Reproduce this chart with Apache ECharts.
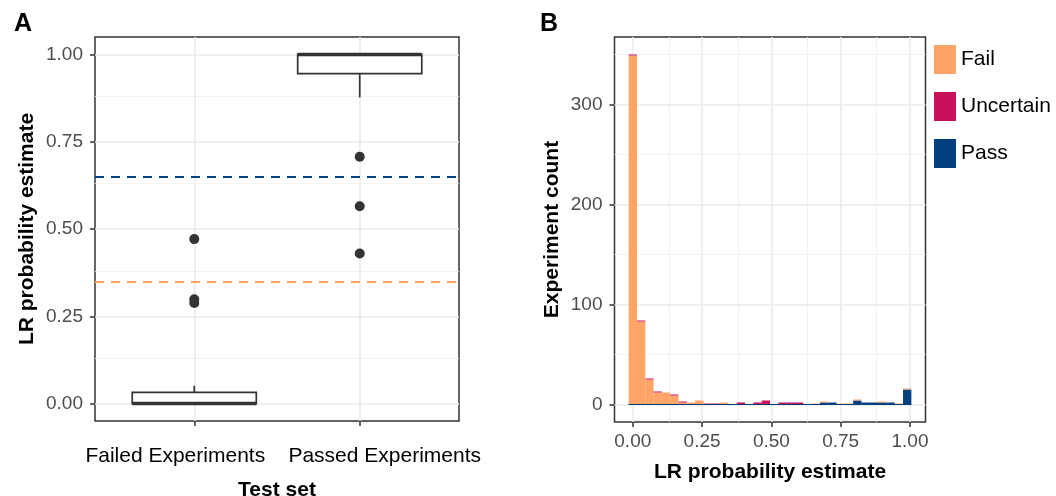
<!DOCTYPE html>
<html><head><meta charset="utf-8">
<script src="https://cdn.jsdelivr.net/npm/echarts@6/dist/echarts.min.js"></script>
<style>html,body{margin:0;padding:0;background:#fff}#c{width:1056px;height:496px}</style>
</head><body><div id="c"></div>
<script>
// ---------- Panel A data ----------
const boxCategories = ['Failed Experiments', 'Passed Experiments'];
const boxPositions = [1, 2];
const boxLowerWhisker = [0.000, 0.877];
const boxQ1 = [0.000, 0.945];
const boxMedian = [0.000, 1.000];
const boxQ3 = [0.032, 1.000];
const boxUpperWhisker = [0.051, 1.000];
const outlierGroup = [1, 1, 1, 2, 2, 2];
const outlierValues = [0.471, 0.299, 0.288, 0.707, 0.565, 0.430];
const thresholdPass = 0.65;
const thresholdFail = 0.35;
const yTicksA = [0, 0.25, 0.5, 0.75, 1];
const yTickLabelsA = ['0.00', '0.25', '0.50', '0.75', '1.00'];
const yMinorA = [0.125, 0.375, 0.625, 0.875];

// ---------- Panel B data ----------
const binWidth = 0.03;
const binCenters = [0.00, 0.03, 0.06, 0.09, 0.12, 0.15, 0.18, 0.21, 0.24, 0.27, 0.30, 0.33, 0.36, 0.39, 0.42, 0.45, 0.48,
  0.51, 0.54, 0.57, 0.60, 0.63, 0.66, 0.69, 0.72, 0.75, 0.78, 0.81, 0.84, 0.87, 0.90, 0.93, 0.96, 0.99];
const countFail = [349, 83, 25, 12, 12, 9, 2, 2, 4, 0, 0, 2, 0, 0, 0, 0, 0,
  0, 0, 0, 0, 0, 1, 1, 0, 1, 1, 1, 0, 0, 1, 0, 1, 1];
const countUncertain = [1, 1, 1, 1, 0, 1, 1, 0, 0, 1, 1, 0, 0, 2, 0, 2, 4,
  0, 2, 2, 2, 0, 0, 0, 0, 0, 0, 0, 0, 0, 0, 0, 0, 0];
const countPass = [0, 0, 0, 0, 0, 0, 0, 0, 0, 0, 0, 0, 0, 0, 0, 0, 0,
  0, 0, 0, 0, 0, 0, 2, 2, 0, 0, 4, 2, 2, 2, 2, 0, 15];
const xTicksB = [0, 0.25, 0.5, 0.75, 1];
const xTickLabelsB = ['0.00', '0.25', '0.50', '0.75', '1.00'];
const xMinorB = [0.125, 0.375, 0.625, 0.875];
const yTicksB = [0, 100, 200, 300];
const yTickLabelsB = ['0', '100', '200', '300'];
const yMinorB = [50, 150, 250, 350];

// ---------- styling / layout ----------
const C_FAIL = '#FDA466', C_UNC = '#C8105B', C_PASS = '#023F7F';
const FONT = '"Liberation Sans", Arial, Helvetica, sans-serif';
const majorStyle = { color: '#EBEBEB', width: 1.6, type: 'solid' };
const minorStyle = { color: '#F0F0F0', width: 0.9, type: 'solid' };
const gridA = { left: 95, top: 37, width: 364, height: 384 };
const xRangeA = [0.4, 2.6];
const catLabelShiftPx = [-19, 25];   // horizontal shift of the category labels in panel A
const pxPerUnitA = gridA.width / (xRangeA[1] - xRangeA[0]);
const catLabelPos = boxPositions.map((p, i) => p + catLabelShiftPx[i] / pxPerUnitA);

function labelFor(values, labels) {
  return function (v) {
    let best = 0, bd = Infinity;
    values.forEach((t, i) => { const d = Math.abs(t - v); if (d < bd) { bd = d; best = i; } });
    return labels[best];
  };
}

function gridLines(idx, xMajor, xMinor, yMajor, yMinor) {
  const d = [];
  xMinor.forEach(v => d.push({ xAxis: v, lineStyle: minorStyle }));
  yMinor.forEach(v => d.push({ yAxis: v, lineStyle: minorStyle }));
  xMajor.forEach(v => d.push({ xAxis: v, lineStyle: majorStyle }));
  yMajor.forEach(v => d.push({ yAxis: v, lineStyle: majorStyle }));
  return {
    type: 'line', xAxisIndex: idx, yAxisIndex: idx, data: [], z: 1, silent: true,
    markLine: { z: 1, silent: true, symbol: ['none', 'none'], label: { show: false }, animation: false,
      emphasis: { disabled: true }, data: d }
  };
}

function axisCommon(extra) {
  return Object.assign({
    type: 'value',
    axisLine: { show: false, onZero: false },
    splitLine: { show: false },
    nameLocation: 'middle',
    nameTextStyle: { fontFamily: FONT, fontSize: 21, fontWeight: 'bold', color: '#000' }
  }, extra);
}

// histogram stacking: Pass (bottom), Fail, Uncertain (top)
const stackPass = binCenters.map((c, i) => [c, 0, countPass[i]]);
const stackFail = binCenters.map((c, i) => [c, countPass[i], countPass[i] + countFail[i]]);
const stackUnc = binCenters.map((c, i) => [c, countPass[i] + countFail[i], countPass[i] + countFail[i] + countUncertain[i]]);

function histSeries(name, color, data) {
  return {
    type: 'custom', name: name, xAxisIndex: 1, yAxisIndex: 1, z: 3, silent: true,
    itemStyle: { color: color },
    encode: { x: 0, y: [1, 2] },
    data: data,
    renderItem: function (params, api) {
      const c = api.value(0), b = api.value(1), t = api.value(2);
      if (t <= b) return null;
      const p0 = api.coord([c - binWidth / 2, t]);
      const p1 = api.coord([c + binWidth / 2, b]);
      return { type: 'rect', shape: { x: p0[0], y: p0[1], width: p1[0] - p0[0], height: p1[1] - p0[1] },
        style: { fill: color } };
    }
  };
}

const tickStyle = { color: '#333', width: 1.5 };
const gridCommon = { show: true, borderColor: '#333', borderWidth: 1.5, backgroundColor: 'transparent',
  containLabel: false, outerBoundsMode: 'none' };
const chart = echarts.init(document.getElementById('c'), null, { renderer: 'canvas' });
chart.setOption({
  animation: false,
  backgroundColor: '#fff',
  textStyle: { fontFamily: FONT },
  title: [
    { text: 'A', left: 14, top: 12, padding: 0, textStyle: { fontFamily: FONT, fontSize: 25, fontWeight: 'bold', color: '#000' } },
    { text: 'B', left: 540, top: 12, padding: 0, textStyle: { fontFamily: FONT, fontSize: 25, fontWeight: 'bold', color: '#000' } }
  ],
  legend: {
    orient: 'vertical', left: 934, top: 45, padding: 0,
    itemWidth: 22, itemHeight: 29, itemGap: 18, icon: 'rect',
    textStyle: { fontFamily: FONT, fontSize: 21, color: '#000' },
    data: ['Fail', 'Uncertain', 'Pass'],
    selectedMode: false
  },
  grid: [
    Object.assign({}, gridCommon, gridA),
    Object.assign({}, gridCommon, { left: 614.5, top: 37, width: 311, height: 385 })
  ],
  xAxis: [
    axisCommon({
      gridIndex: 0, min: xRangeA[0], max: xRangeA[1],
      name: 'Test set', nameGap: 59,
      axisTick: { show: true, length: 5, customValues: boxPositions, lineStyle: tickStyle },
      axisLabel: { customValues: catLabelPos, margin: 25, fontFamily: FONT, fontSize: 21, color: '#000', hideOverlap: false,
        formatter: labelFor(catLabelPos, boxCategories) }
    }),
    axisCommon({
      gridIndex: 1, min: -0.066, max: 1.056,
      name: 'LR probability estimate', nameGap: 40,
      axisTick: { show: true, length: 5, customValues: xTicksB, lineStyle: tickStyle },
      axisLabel: { customValues: xTicksB, margin: 10, fontFamily: FONT, fontSize: 19, color: '#4D4D4D',
        formatter: labelFor(xTicksB, xTickLabelsB) }
    })
  ],
  yAxis: [
    axisCommon({
      gridIndex: 0, min: -0.05, max: 1.05,
      name: 'LR probability estimate', nameGap: 57,
      axisTick: { show: true, length: 5, customValues: yTicksA, lineStyle: tickStyle },
      axisLabel: { customValues: yTicksA, margin: 12, fontFamily: FONT, fontSize: 19, color: '#4D4D4D',
        formatter: labelFor(yTicksA, yTickLabelsA) }
    }),
    axisCommon({
      gridIndex: 1, min: -17.5, max: 367.5,
      name: 'Experiment count', nameGap: 52,
      axisTick: { show: true, length: 5, customValues: yTicksB, lineStyle: tickStyle },
      axisLabel: { customValues: yTicksB, margin: 12, fontFamily: FONT, fontSize: 19, color: '#4D4D4D',
        formatter: labelFor(yTicksB, yTickLabelsB) }
    })
  ],
  series: [
    gridLines(0, boxPositions, [], yTicksA, yMinorA),
    gridLines(1, xTicksB, xMinorB, yTicksB, yMinorB),
    {
      type: 'line', xAxisIndex: 0, yAxisIndex: 0, data: [], z: 2, silent: true,
      markLine: { z: 2, silent: true, symbol: ['none', 'none'], label: { show: false }, animation: false,
        emphasis: { disabled: true },
        data: [
          { yAxis: thresholdPass, lineStyle: { color: C_PASS, width: 2, type: [9, 7] } },
          { yAxis: thresholdFail, lineStyle: { color: C_FAIL, width: 2, type: [9, 7] } }
        ] }
    },
    {
      type: 'custom', xAxisIndex: 0, yAxisIndex: 0, z: 3, silent: true,
      data: boxPositions.map((p, i) => [p, boxLowerWhisker[i], boxQ1[i], boxMedian[i], boxQ3[i], boxUpperWhisker[i]]),
      encode: { x: 0, y: [1, 2, 3, 4, 5] },
      renderItem: function (params, api) {
        const x = api.value(0), lw = api.value(1), q1 = api.value(2), md = api.value(3), q3 = api.value(4), uw = api.value(5);
        const hw = 0.375;
        const tl = api.coord([x - hw, q3]);
        const br = api.coord([x + hw, q1]);
        const cx = api.coord([x, q1])[0];
        const yUw = api.coord([x, uw])[1], yLw = api.coord([x, lw])[1], yMd = api.coord([x, md])[1];
        const st = { stroke: '#333', lineWidth: 1.7, fill: null };
        return { type: 'group', children: [
          { type: 'line', shape: { x1: cx, y1: tl[1], x2: cx, y2: yUw }, style: st },
          { type: 'line', shape: { x1: cx, y1: br[1], x2: cx, y2: yLw }, style: st },
          { type: 'rect', shape: { x: tl[0], y: tl[1], width: br[0] - tl[0], height: br[1] - tl[1] },
            style: { stroke: '#333', lineWidth: 1.7, fill: '#fff' } },
          { type: 'line', shape: { x1: tl[0], y1: yMd, x2: br[0], y2: yMd }, style: { stroke: '#333', lineWidth: 3.6, fill: null } }
        ] };
      }
    },
    {
      type: 'scatter', xAxisIndex: 0, yAxisIndex: 0, z: 4, silent: true,
      symbolSize: 10, itemStyle: { color: '#333', opacity: 1 },
      data: outlierGroup.map((g, i) => [g, outlierValues[i]])
    },
    histSeries('Pass', C_PASS, stackPass),
    histSeries('Fail', C_FAIL, stackFail),
    histSeries('Uncertain', C_UNC, stackUnc),
    {
      type: 'line', xAxisIndex: 1, yAxisIndex: 1, z: 5, silent: true, symbol: 'none',
      lineStyle: { color: C_PASS, width: 1.2 },
      data: [[binCenters[0] - binWidth / 2, 0], [binCenters[binCenters.length - 1] + binWidth / 2, 0]]
    }
  ]
});
</script></body></html>
